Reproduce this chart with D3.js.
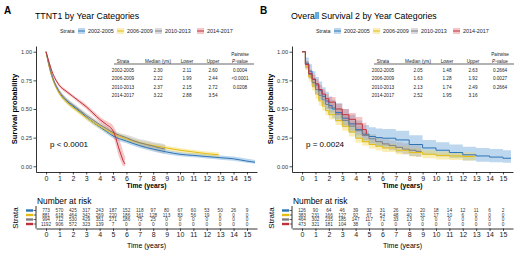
<!DOCTYPE html>
<html><head><meta charset="utf-8">
<script src="https://cdn.jsdelivr.net/npm/d3@7"></script>
<style>body{margin:0;background:#fff}svg{display:block}text{font-family:"Liberation Sans",Arial,sans-serif}</style>
</head><body><svg id="c" width="520" height="254"></svg>
<script>
// ---------- shared ----------
const strata = ["2002-2005","2006-2009","2010-2013","2014-2017"];
const lineColors = ["#2E74B5","#E3BD12","#7F7F7F","#C0303A"];
const fillColors = ["#5B9BD5","#F5D547","#A6A6A6","#E87070"];
const timeTicks = [0,1,2,3,4,5,6,7,8,9,10,11,12,13,14,15];
const survTicks = [0,0.25,0.5,0.75,1];
const tableHeader = ["Strata","Median (yrs)","Lower","Upper","P-value"];

// ---------- Panel A : TTNT1 ----------
const tA1 = [0,0.25,0.5,0.75,1,1.5,2,2.5,3,3.5,4,4.5,5,6,7,8,9,10,11,12,13,14,15,15.6];
const sA1 = [1,0.87,0.77,0.70,0.645,0.575,0.525,0.48,0.43,0.385,0.345,0.305,0.265,0.22,0.18,0.15,0.125,0.105,0.095,0.085,0.075,0.065,0.045,0.035];
const loA1 = [1,0.85,0.75,0.68,0.625,0.555,0.505,0.46,0.41,0.365,0.325,0.285,0.245,0.2,0.16,0.13,0.105,0.088,0.078,0.068,0.058,0.048,0.03,0.022];
const hiA1 = [1,0.89,0.79,0.72,0.665,0.595,0.545,0.5,0.45,0.405,0.365,0.325,0.285,0.24,0.2,0.17,0.145,0.125,0.115,0.105,0.095,0.085,0.065,0.055];

const tA2 = [0,0.25,0.5,0.75,1,1.5,2,2.5,3,3.5,4,4.5,5,6,7,8,9,10,11,12,12.9];
const sA2 = [1,0.86,0.76,0.69,0.635,0.565,0.515,0.47,0.425,0.385,0.35,0.315,0.285,0.24,0.205,0.18,0.16,0.14,0.125,0.11,0.10];
const loA2 = [1,0.84,0.74,0.67,0.615,0.545,0.495,0.45,0.405,0.365,0.33,0.295,0.265,0.22,0.185,0.16,0.14,0.12,0.105,0.09,0.08];
const hiA2 = [1,0.88,0.78,0.71,0.655,0.585,0.535,0.49,0.445,0.405,0.37,0.335,0.305,0.26,0.225,0.2,0.18,0.16,0.145,0.13,0.12];

const tA3 = [0,0.25,0.5,0.75,1,1.5,2,2.5,3,3.5,4,4.5,5,5.5,6,6.5,7,7.5,8,8.5,8.9];
const sA3 = [1,0.87,0.77,0.70,0.65,0.58,0.535,0.49,0.445,0.405,0.365,0.33,0.295,0.27,0.25,0.225,0.205,0.19,0.175,0.16,0.15];
const loA3 = [1,0.85,0.75,0.68,0.63,0.56,0.515,0.47,0.425,0.385,0.345,0.31,0.275,0.25,0.225,0.2,0.175,0.155,0.14,0.12,0.11];
const hiA3 = [1,0.89,0.79,0.72,0.67,0.60,0.555,0.51,0.465,0.425,0.385,0.35,0.315,0.29,0.275,0.255,0.235,0.225,0.21,0.2,0.19];

const tA4 = [0,0.25,0.5,0.75,1,1.5,2,2.5,3,3.5,4,4.5,5,5.2,5.4,5.6,5.75,5.9];
const sA4 = [1,0.9,0.81,0.75,0.705,0.655,0.61,0.565,0.52,0.465,0.41,0.365,0.31,0.25,0.17,0.1,0.05,0.02];
const loA4 = [1,0.885,0.795,0.735,0.69,0.64,0.595,0.548,0.5,0.443,0.385,0.335,0.265,0.19,0.1,0.04,0.005,0];
const hiA4 = [1,0.915,0.825,0.765,0.72,0.67,0.625,0.582,0.54,0.487,0.435,0.395,0.355,0.31,0.25,0.19,0.13,0.08];

const medA = ["2.30","2.22","2.37","3.22"];
const lowA = ["2.11","1.99","2.15","2.88"];
const uppA = ["2.60","2.44","2.72","3.54"];
const pwA  = ["0.0004","<0.0001","0.0208",""];
const riskA1 = [773,570,425,317,243,187,152,118,97,80,67,60,53,50,26,9];
const riskA2 = [881,618,464,342,269,220,186,161,128,113,83,56,19,0,0,0];
const riskA3 = [994,712,530,429,351,271,186,75,25,0,0,0,0,0,0,0];
const riskA4 = [1192,906,572,323,139,7,0,0,0,0,0,0,0,0,0,0];

// ---------- Panel B : Overall Survival 2 ----------
const tB1 = [0,0.25,0.5,0.75,1,1.25,1.5,1.75,2,2.25,2.5,3,3.5,4,4.5,5,5.5,6,7,8,9,10,11,12,13,14,15,15.6];
const sB1 = [1,0.9,0.83,0.76,0.71,0.66,0.61,0.57,0.53,0.5,0.47,0.42,0.37,0.32,0.28,0.26,0.25,0.245,0.23,0.19,0.16,0.14,0.12,0.10,0.09,0.08,0.07,0.07];
const loB1 = [1,0.85,0.77,0.69,0.64,0.58,0.53,0.49,0.45,0.42,0.39,0.34,0.29,0.24,0.21,0.19,0.18,0.175,0.16,0.13,0.1,0.085,0.07,0.05,0.04,0.035,0.03,0.03];
const hiB1 = [1,0.95,0.89,0.83,0.78,0.74,0.69,0.65,0.61,0.58,0.55,0.5,0.45,0.4,0.36,0.34,0.33,0.325,0.31,0.27,0.23,0.21,0.19,0.17,0.16,0.15,0.14,0.14];

const tB2 = [0,0.25,0.5,0.75,1,1.25,1.5,1.75,2,2.5,3,3.5,4,4.5,5,5.5,6,7,8,9,10,11,12,12.9];
const sB2 = [1,0.87,0.78,0.7,0.63,0.57,0.525,0.485,0.45,0.4,0.35,0.3,0.245,0.215,0.19,0.175,0.16,0.14,0.12,0.105,0.095,0.09,0.085,0.08];
const loB2 = [1,0.84,0.74,0.66,0.59,0.53,0.485,0.445,0.41,0.36,0.31,0.26,0.205,0.18,0.155,0.14,0.125,0.105,0.085,0.07,0.06,0.055,0.05,0.05];
const hiB2 = [1,0.9,0.82,0.74,0.67,0.61,0.565,0.525,0.49,0.44,0.39,0.34,0.285,0.25,0.225,0.21,0.195,0.175,0.155,0.14,0.13,0.125,0.12,0.115];

const tB3 = [0,0.25,0.5,0.75,1,1.25,1.5,1.75,2,2.5,3,3.5,4,4.5,5,5.5,6,6.5,7,7.5,8,8.5,8.9];
const sB3 = [1,0.89,0.8,0.73,0.67,0.62,0.58,0.54,0.51,0.455,0.4,0.35,0.31,0.27,0.24,0.215,0.195,0.18,0.165,0.15,0.14,0.13,0.125];
const loB3 = [1,0.86,0.765,0.69,0.63,0.58,0.54,0.5,0.47,0.415,0.36,0.31,0.27,0.23,0.2,0.175,0.155,0.14,0.12,0.105,0.09,0.08,0.075];
const hiB3 = [1,0.92,0.835,0.77,0.71,0.66,0.62,0.58,0.55,0.495,0.44,0.39,0.35,0.31,0.28,0.255,0.235,0.225,0.21,0.2,0.19,0.185,0.18];

const tB4 = [0,0.25,0.5,0.75,1,1.25,1.5,1.75,2,2.5,3,3.5,4,4.5,4.8];
const sB4 = [1,0.89,0.81,0.76,0.72,0.67,0.63,0.59,0.56,0.5,0.45,0.41,0.37,0.32,0.28];
const loB4 = [1,0.86,0.775,0.72,0.68,0.63,0.59,0.55,0.515,0.455,0.4,0.355,0.31,0.26,0.22];
const hiB4 = [1,0.92,0.845,0.8,0.76,0.71,0.67,0.63,0.605,0.545,0.5,0.465,0.43,0.38,0.34];

const medB = ["2.05","1.63","2.13","2.52"];
const lowB = ["1.48","1.28","1.74","1.95"];
const uppB = ["2.63","1.92","2.49","3.16"];
const pwB  = ["0.2664","0.0027","0.2664",""];
const riskB1 = [126,90,64,46,39,32,31,26,22,20,18,14,12,11,6,2];
const riskB2 = [383,231,166,127,92,67,54,48,40,31,17,10,6,0,0,0];
const riskB3 = [464,302,235,185,147,117,71,33,13,0,0,0,0,0,0,0];
const riskB4 = [473,321,181,104,38,0,0,0,0,0,0,0,0,0,0,0];

// ---------- drawing ----------
const svg = d3.select("#c");

function txt(g, x, y, s, o) {
  o = o || {};
  const t = g.append("text")
    .attr("transform", `translate(${x},${y})` + (o.rot ? " rotate(-90)" : "") + (o.sx ? ` scale(${o.sx},1)` : ""))
    .attr("text-anchor", o.anchor || "start")
    .attr("dy", "0.35em")
    .style("font-size", o.size + "px")
    .attr("fill", o.color || "#000");
  if (o.bold) t.style("font-weight", "bold");
  t.text(s);
  return t;
}

function panel(cfg) {
  const g = svg.append("g");
  const L = cfg.L, R = cfg.L + 221, T = 46, B = 172;
  const x = d3.scaleLinear().domain([-0.75, 15.75]).range([L, R]);
  const y = d3.scaleLinear().domain([-0.05, 1.05]).range([B, T]);

  txt(g, cfg.L - 32, 10, cfg.letter, {size: 10, bold: true});
  txt(g, L - 1, 16, cfg.title, {size: 8.8});

  // legend
  const ly = 31;
  txt(g, L + 24, ly, "Strata", {size: 5.4, color: "#222"});
  const lx = [42, 81, 119, 161];
  strata.forEach((s, i) => {
    const sx = L + lx[i];
    g.append("rect").attr("x", sx).attr("y", ly - 3).attr("width", 7).attr("height", 6)
      .attr("fill", fillColors[i]).attr("fill-opacity", 0.4);
    g.append("line").attr("x1", sx).attr("x2", sx + 7).attr("y1", ly).attr("y2", ly)
      .attr("stroke", lineColors[i]).attr("stroke-width", 1);
    txt(g, sx + 10, ly, s, {size: 5.4, color: "#222"});
  });

  // ribbons
  const area = d3.area().curve(cfg.curve).x(d => x(d[0])).y0(d => y(d[1])).y1(d => y(d[2]));
  const line = d3.line().curve(cfg.curve).x(d => x(d[0])).y(d => y(d[1]));
  const series = cfg.series.map(s => s.t.map((t, j) => [t, s.lo[j], s.hi[j], s.s[j]]));
  series.forEach((d, i) => {
    g.append("path").attr("d", area(d)).attr("fill", fillColors[i]).attr("fill-opacity", 0.4);
  });
  series.forEach((d, i) => {
    g.append("path").attr("d", line(d.map(p => [p[0], p[3]])))
      .attr("fill", "none").attr("stroke", lineColors[i]).attr("stroke-width", 1);
  });

  // axes
  const ya = g.append("g").attr("transform", `translate(${L},0)`)
    .call(d3.axisLeft(y).tickValues(survTicks).tickFormat(d3.format(".2f")).tickSize(2.5).tickSizeOuter(0).tickPadding(1.5));
  ya.selectAll("text").style("font-size", "5.6px").attr("fill", "#333").style("font-family", "Liberation Sans, Arial");
  const xa = g.append("g").attr("transform", `translate(0,${B})`)
    .call(d3.axisBottom(x).tickValues(timeTicks).tickFormat(d3.format("d")).tickSize(2.5).tickSizeOuter(0).tickPadding(1.5));
  xa.selectAll("text").style("font-size", "7px").attr("fill", "#222").style("font-family", "Liberation Sans, Arial");
  [ya, xa].forEach(a => { a.select(".domain").attr("stroke", "#000").attr("stroke-width", 0.8); a.selectAll(".tick line").attr("stroke", "#000").attr("stroke-width", 0.7); });

  txt(g, (L + R) / 2, 186, "Time (years)", {size: 6.8, bold: true, anchor: "middle"});
  txt(g, L - 22, (T + B) / 2, "Survival probability", {size: 7.6, bold: true, anchor: "middle", rot: true});
  txt(g, L + 14, 144, cfg.p, {size: 8});

  // stats table
  const tx = L + cfg.tOff;
  const cols = [0, 35, 64, 90, 117];
  const fs = 5.3, fsx = 0.88;
  txt(g, tx + cols[4], 54, "Pairwise", {size: fs, anchor: "middle", sx: fsx, color: "#222"});
  tableHeader.forEach((h, k) => {
    const t = txt(g, tx + cols[k], 61, k === 4 ? "" : h, {size: fs, anchor: "middle", sx: fsx, color: "#222"});
    if (k === 4) { t.append("tspan").style("font-style", "italic").text("P"); t.append("tspan").text("-value"); }
  });
  g.append("line").attr("x1", tx - 9).attr("x2", tx + cols[4] + 14).attr("y1", 64).attr("y2", 64)
    .attr("stroke", "#000").attr("stroke-width", 0.6);
  strata.forEach((s, i) => {
    const row = [s, cfg.med[i], cfg.low[i], cfg.upp[i], cfg.pw[i]];
    row.forEach((v, k) => txt(g, tx + cols[k], 70 + i * 8.4, v, {size: fs, anchor: "middle", sx: fsx, color: "#222"}));
  });

  // risk table
  txt(g, L + 1, 201, "Number at risk", {size: 8.4});
  const rowY = [210.5, 215, 219.5, 224];
  const rB = 228.5;
  g.append("line").attr("x1", L).attr("x2", L).attr("y1", 206).attr("y2", rB).attr("stroke", "#000").attr("stroke-width", 0.8);
  cfg.risk.forEach((r, i) => {
    g.append("rect").attr("x", L - 10).attr("y", rowY[i] - 1.2).attr("width", 7).attr("height", 2.4).attr("fill", lineColors[i]);
    g.append("line").attr("x1", L - 2.5).attr("x2", L).attr("y1", rowY[i]).attr("y2", rowY[i]).attr("stroke", "#000").attr("stroke-width", 0.6);
    r.forEach((n, j) => txt(g, x(timeTicks[j]), rowY[i], String(n), {size: 4.7, anchor: "middle", color: "#333"}));
  });
  const ra = g.append("g").attr("transform", `translate(0,${rB})`)
    .call(d3.axisBottom(x).tickValues(timeTicks).tickFormat(d3.format("d")).tickSize(2.5).tickSizeOuter(0).tickPadding(1.5));
  ra.selectAll("text").style("font-size", "7px").attr("fill", "#222").style("font-family", "Liberation Sans, Arial");
  ra.select(".domain").attr("stroke", "#000").attr("stroke-width", 0.8);
  ra.selectAll(".tick line").attr("stroke", "#000").attr("stroke-width", 0.7);
  txt(g, (L + R) / 2, 246, "Time (years)", {size: 7, anchor: "middle"});
  txt(g, L - 21, 218, "Strata", {size: 8, anchor: "middle", rot: true});
}

panel({L: 36, letter: "A", title: "TTNT1 by Year Categories", p: "p < 0.0001", tOff: 87,
  curve: d3.curveMonotoneX,
  series: [{t: tA1, s: sA1, lo: loA1, hi: hiA1}, {t: tA2, s: sA2, lo: loA2, hi: hiA2},
           {t: tA3, s: sA3, lo: loA3, hi: hiA3}, {t: tA4, s: sA4, lo: loA4, hi: hiA4}],
  med: medA, low: lowA, upp: uppA, pw: pwA, risk: [riskA1, riskA2, riskA3, riskA4]});

panel({L: 292, letter: "B", title: "Overall Survival 2 by Year Categories", p: "p = 0.0024", tOff: 91,
  curve: d3.curveStepAfter,
  series: [{t: tB1, s: sB1, lo: loB1, hi: hiB1}, {t: tB2, s: sB2, lo: loB2, hi: hiB2},
           {t: tB3, s: sB3, lo: loB3, hi: hiB3}, {t: tB4, s: sB4, lo: loB4, hi: hiB4}],
  med: medB, low: lowB, upp: uppB, pw: pwB, risk: [riskB1, riskB2, riskB3, riskB4]});
</script></body></html>
